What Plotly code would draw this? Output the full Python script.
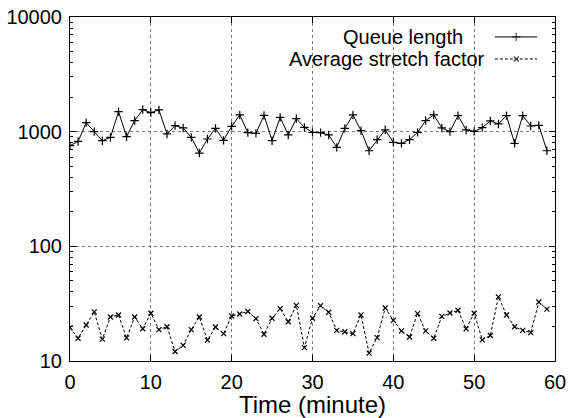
import plotly.graph_objects as go

# minutes 0..59
minutes = list(range(60))

queue_length = [
    755, 822, 1199, 1000, 834, 892, 1496, 904, 1248, 1556,
    1465, 1547, 955, 1128, 1077, 892, 651, 863, 1068, 840,
    1112, 1399, 980, 966, 1388, 834, 1333, 936, 1299, 1090,
    986, 980, 936, 730, 1068, 1399, 1020, 682, 851, 1038,
    806, 790, 851, 986, 1248, 1399, 1077, 1000, 1380, 1035,
    1006, 1084, 1240, 1168, 1380, 790, 1380, 1121, 1135, 682,
]

stretch_factor = [
    19.5, 15.8, 20.6, 26.8, 15.5, 24.2, 25.2, 15.9, 24.2, 19.1,
    26.1, 18.8, 19.9, 12.1, 13.7, 18.8, 24.2, 15.2, 19.8, 17.3,
    24.7, 25.7, 27.0, 23.4, 17.1, 23.6, 28.6, 22.0, 30.6, 13.1,
    23.6, 30.4, 26.6, 18.5, 18.0, 17.3, 25.2, 11.7, 16.0, 29.0,
    22.6, 18.3, 16.2, 25.9, 18.3, 15.8, 24.5, 26.2, 27.7, 19.1,
    26.1, 15.3, 16.7, 36.2, 25.2, 19.9, 18.5, 17.7, 32.7, 28.3,
]

series_names = ["Queue length", "Average stretch factor"]
x_ticks = [0, 10, 20, 30, 40, 50, 60]
y_ticks = [10, 100, 1000, 10000]

FONT = "Liberation Sans, Arial, Helvetica, sans-serif"
DASH = "3px,2px"

fig = go.Figure()

fig.add_trace(go.Scatter(
    x=minutes, y=queue_length, mode="lines+markers", name=series_names[0],
    line=dict(color="black", width=1),
    marker=dict(symbol="cross-thin", size=6, color="black",
                line=dict(color="black", width=1.2)),
))

fig.add_trace(go.Scatter(
    x=minutes, y=stretch_factor, mode="lines+markers", name=series_names[1],
    line=dict(color="black", width=1, dash=DASH),
    marker=dict(symbol="x-thin", size=5, color="black",
                line=dict(color="black", width=1.2)),
))

# legend samples on an invisible overlay axis (gnuplot style: text left, sample right)
fig.add_trace(go.Scatter(
    x=[0.876, 0.92, 0.963], y=[0.942, 0.942, 0.942], mode="lines+markers",
    xaxis="x2", yaxis="y2", showlegend=False, hoverinfo="skip",
    line=dict(color="black", width=1),
    marker=dict(symbol="cross-thin", size=[0, 6, 0],
                line=dict(color="black", width=1.2)),
))
fig.add_trace(go.Scatter(
    x=[0.876, 0.92, 0.963], y=[0.878, 0.878, 0.878], mode="lines+markers",
    xaxis="x2", yaxis="y2", showlegend=False, hoverinfo="skip",
    line=dict(color="black", width=1, dash=DASH),
    marker=dict(symbol="x-thin", size=[0, 5, 0],
                line=dict(color="black", width=1.2)),
))

for name, xx, yy in zip(series_names, [0.814, 0.860], [0.942, 0.878]):
    fig.add_annotation(
        text=name, xref="paper", yref="paper", x=xx, y=yy,
        xanchor="right", yanchor="middle", showarrow=False,
        font=dict(family=FONT, size=20, color="black"),
    )

fig.update_layout(
    width=570, height=418,
    margin=dict(l=70, r=15, t=17, b=57),
    paper_bgcolor="white", plot_bgcolor="white",
    showlegend=False,
    font=dict(family=FONT, size=20, color="black"),
    xaxis=dict(
        range=[0, 60], tickvals=x_ticks, ticks="inside", ticklen=6,
        tickcolor="black", showline=True, linecolor="black", linewidth=1,
        mirror="ticks", showgrid=True, gridcolor="#777777", griddash="dot",
        gridwidth=1, zeroline=False, automargin=False, ticklabelstandoff=3,
        ticklabeloverflow="allow",
        title=dict(text="Time (minute)", standoff=3),
    ),
    yaxis=dict(
        type="log", range=[1, 4], tickvals=y_ticks, tickformat="d",
        ticks="inside", ticklen=6, tickcolor="black",
        showline=True, linecolor="black", linewidth=1, mirror="ticks",
        showgrid=True, gridcolor="#777777", griddash="dot", gridwidth=1,
        zeroline=False, automargin=False, ticklabelstandoff=3,
        ticklabeloverflow="allow",
        minor=dict(ticks="inside", ticklen=3, tickcolor="black",
                   dtick="D1", showgrid=False),
    ),
    xaxis2=dict(range=[0, 1], overlaying="x", visible=False),
    yaxis2=dict(range=[0, 1], overlaying="y", visible=False),
)

# drop the default 8px body margin so the figure fills the window
fig.write_html("out.html", config={"displayModeBar": False},
               post_script="document.body.style.margin = '0';")
